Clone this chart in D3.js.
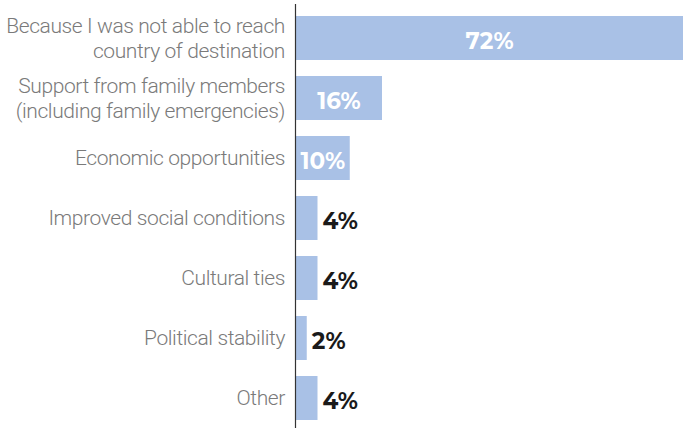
<!DOCTYPE html>
<html>
<head>
<meta charset="utf-8">
<script src="https://cdn.jsdelivr.net/npm/d3@7"></script>
<style>
  body { margin: 0; background: #fff; }
  svg { display: block; }
</style>
</head>
<body>
<svg id="chart" width="683" height="428"></svg>
<script>
// categories, each a list of label lines
var categories = [
  ["Because I was not able to reach", "country of destination"],
  ["Support from family members", "(including family emergencies)"],
  ["Economic opportunities"],
  ["Improved social conditions"],
  ["Cultural ties"],
  ["Political stability"],
  ["Other"]
];
var values = [72, 16, 10, 4, 4, 2, 4];

var dims = { width: 683, height: 428, left: 296, top: 6 };

var svg = d3.select("#chart");

var data = values.map(function(v, i) { return { label: categories[i], value: v, key: i }; });

var xScale = d3.scaleLinear()
  .domain([0, 72])
  .range([dims.left, 683]);

// step of 60px, bars 44px tall
var yScale = d3.scaleBand()
  .domain(data.map(d => d.key))
  .range([dims.top, 430])
  .paddingInner(16 / 60)
  .paddingOuter(10 / 60);

// bars
svg.selectAll("rect.bar")
  .data(data)
  .enter()
  .append("rect")
  .attr("class", "bar")
  .attr("x", xScale(0))
  .attr("y", d => yScale(d.key))
  .attr("width", d => xScale(d.value) - xScale(0))
  .attr("height", yScale.bandwidth())
  .attr("fill", "#a9c1e6");

// axis line
var yAxis = svg.append("g")
  .attr("transform", `translate(${dims.left - 0.5},0)`)
  .call(d3.axisLeft(yScale).tickSize(0).tickFormat(""));
yAxis.select(".domain")
  .attr("d", "M0,4V428")
  .attr("stroke", "#333")
  .attr("stroke-width", 1.2);

// category labels
var labels = svg.selectAll("text.cat")
  .data(data)
  .enter()
  .append("text")
  .attr("class", "cat")
  .attr("text-anchor", "end")
  .attr("x", dims.left - 11)
  .attr("y", d => yScale(d.key) + yScale.bandwidth() / 2)
  .style("font-family", "Roboto, sans-serif")
  .style("font-weight", 300)
  .style("font-size", "21px")
  .style("letter-spacing", "-0.4px")
  .attr("fill", "#7a7a7a");

labels.each(function(d) {
  var n = d.label.length;
  var t = d3.select(this);
  d.label.forEach(function(line, j) {
    t.append("tspan")
      .attr("x", dims.left - 11)
      .attr("dy", j === 0 ? (-(n - 1) * 12.5 + 7) + "px" : "25px")
      .text(line);
  });
});

// value labels
svg.selectAll("text.val")
  .data(data)
  .enter()
  .append("text")
  .attr("class", "val")
  .attr("x", d => d.value >= 10 ? (xScale(0) + xScale(d.value)) / 2 : xScale(d.value) + 5)
  .attr("y", d => yScale(d.key) + yScale.bandwidth() / 2 + 11)
  .attr("text-anchor", d => d.value >= 10 ? "middle" : "start")
  .style("font-family", "Montserrat, 'Open Sans', sans-serif")
  .style("font-weight", 700)
  .style("font-size", "23px")
  .attr("fill", d => d.value >= 10 ? "#ffffff" : "#1a1a1a")
  .text(d => d.value + "%");
</script>
</body>
</html>
